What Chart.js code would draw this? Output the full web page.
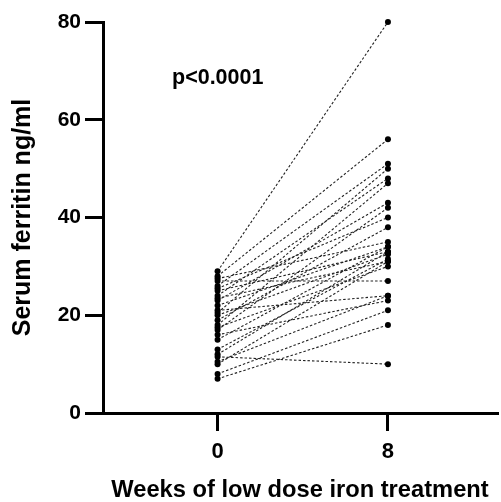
<!DOCTYPE html>
<html>
<head>
<meta charset="utf-8">
<script src="https://cdn.jsdelivr.net/npm/chart.js@4"></script>
<style>
  html, body { margin: 0; padding: 0; background: #fff; }
  #wrap { width: 501px; height: 502px; }
</style>
</head>
<body>
<div id="wrap"><canvas id="ferritinChart" width="501" height="502"></canvas></div>
<script>
    // x categories (weeks)
    var weekLabels = ['0', '8'];
    // serum ferritin per patient, same index = same patient
    var week0 = [29, 28, 27.5, 27, 26, 25.5, 25, 24, 23.5, 23, 22, 21, 20.5, 20, 19, 18, 17.5, 17, 16, 15, 13, 12, 11.5, 10.5, 10, 8, 7];
    var week8 = [80, 56, 35, 27, 51, 40, 33, 48, 31, 43, 34, 24, 50, 32.5, 38, 47, 30, 42, 23, 34, 31.5, 33, 10, 24, 31, 21, 18];
    var yTicks = [0, 20, 40, 60, 80];
    var pText = 'p<0.0001';

    document.addEventListener('DOMContentLoaded', function () {
        var fontFam = "'Liberation Sans', Arial, sans-serif";

        var datasets = week0.map(function (v, i) {
            return {
                data: [{ x: 0, y: v }, { x: 1, y: week8[i] }],
                showLine: true,
                borderColor: '#222',
                borderWidth: 1.1,
                borderDash: [2.5, 2],
                pointRadius: 3,
                pointBackgroundColor: '#000',
                pointBorderWidth: 0,
                clip: false
            };
        });

        var pLabel = {
            id: 'pLabel',
            afterDraw: function (chart) {
                var ctx = chart.ctx;
                ctx.save();
                ctx.fillStyle = '#000';
                ctx.font = 'bold 21.5px ' + fontFam;
                ctx.textBaseline = 'middle';
                ctx.fillText(pText, 172, 78);
                ctx.restore();
            }
        };

        var ctxF = document.getElementById('ferritinChart').getContext('2d');
        var ferritinChart = new Chart(ctxF, {
            type: 'scatter',
            data: { datasets: datasets },
            plugins: [pLabel],
            options: {
                responsive: false,
                animation: false,
                layout: { padding: { top: 22, right: 0, bottom: 0, left: 0 } },
                plugins: {
                    legend: { display: false },
                    tooltip: { enabled: false }
                },
                scales: {
                    x: {
                        type: 'linear',
                        min: -0.6725,
                        max: 1.64,
                        afterBuildTicks: function (axis) {
                            axis.ticks = weekLabels.map(function (l, i) { return { value: i }; });
                        },
                        afterFit: function (axis) { axis.height = 89; },
                        ticks: {
                            color: '#000',
                            padding: 8,
                            font: { family: fontFam, size: 22, weight: 'bold' },
                            callback: function (v) { return weekLabels[v]; }
                        },
                        grid: {
                            drawOnChartArea: false,
                            color: '#000',
                            lineWidth: 3,
                            tickLength: 18
                        },
                        border: { display: true, color: '#000', width: 3 },
                        title: {
                            display: true,
                            text: 'Weeks of low dose iron treatment',
                            color: '#000',
                            padding: { top: 0, bottom: 0 },
                            font: { family: fontFam, size: 23.7, weight: 'bold', lineHeight: 1 }
                        }
                    },
                    y: {
                        min: 0,
                        max: 80,
                        afterBuildTicks: function (axis) {
                            axis.ticks = yTicks.map(function (v) { return { value: v }; });
                        },
                        afterFit: function (axis) { axis.width = 103; },
                        ticks: {
                            color: '#000',
                            padding: 4,
                            font: { family: fontFam, size: 21, weight: 'bold' }
                        },
                        grid: {
                            drawOnChartArea: false,
                            color: '#000',
                            lineWidth: 3,
                            tickLength: 18
                        },
                        border: { display: true, color: '#000', width: 3 },
                        title: {
                            display: true,
                            text: 'Serum ferritin ng/ml',
                            color: '#000',
                            padding: { top: 11, bottom: 0 },
                            font: { family: fontFam, size: 25, weight: 'bold', lineHeight: 1 }
                        }
                    }
                }
            }
        });
    });
</script>
</body>
</html>
